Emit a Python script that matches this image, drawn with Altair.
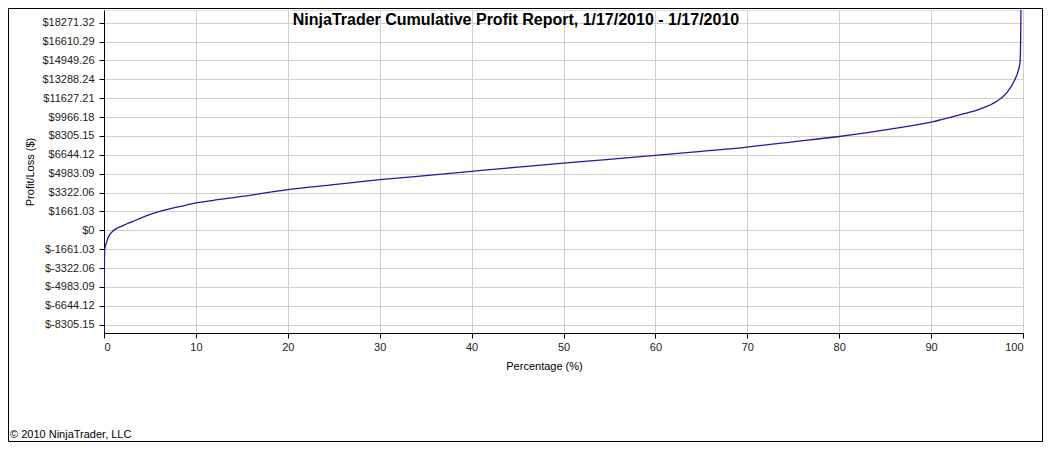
import altair as alt
import pandas as pd

title_text = "NinjaTrader Cumulative Profit Report, 1/17/2010 - 1/17/2010"
copyright_text = "\u00a9 2010 NinjaTrader, LLC"

pct = [0, 0.03, 0.05, 0.08, 0.15, 0.26, 0.4, 0.62, 0.9, 1.16, 1.5, 1.89, 2.5, 3.16, 4.0, 4.97,
       6.79, 8.5, 10.0, 12.6, 15, 20, 25, 30, 35, 40, 45, 50, 55, 60, 65, 70, 75, 80, 85, 90,
       93.1, 95.3, 97.1, 98.2, 99.1, 99.45, 99.62, 99.7, 99.74, 99.78]
pnl = [-9000, -5000, -2425, -1695, -1400, -1107, -740, -378, -120, 61, 220, 351, 580, 791,
       1080, 1379, 1818, 2140, 2407, 2720, 2980, 3575, 4020, 4454, 4820, 5190, 5560, 5920,
       6250, 6588, 6950, 7330, 7790, 8257, 8845, 9522, 10163, 10664, 11331, 12069, 13238,
       13950, 14500, 15000, 16500, 19390]

y_ticks = [-8305.15, -6644.12, -4983.09, -3322.06, -1661.03, 0, 1661.03, 3322.06, 4983.09,
           6644.12, 8305.15, 9966.18, 11627.21, 13288.24, 14949.26, 16610.29, 18271.32]
x_ticks = [0, 10, 20, 30, 40, 50, 60, 70, 80, 90, 100]

df = pd.DataFrame({"pct": pct, "pnl": pnl})

W, H = 919, 323
FONT = "Liberation Sans"

line = alt.Chart(df).mark_line(color="#1c1c9a", strokeWidth=1.3, clip=True,
                               interpolate="monotone").encode(
    x=alt.X("pct:Q", scale=alt.Scale(domain=[0, 100], nice=False, zero=False),
            axis=alt.Axis(values=x_ticks, format="d", title="Percentage (%)",
                          titleX=440, titleY=33, titleBaseline="middle",
                          titleFontWeight="normal", titleFontSize=11, titleFont=FONT,
                          labelFont=FONT, labelFontSize=11, labelColor="#222",
                          labelPadding=3, tickSize=5, tickColor="#000",
                          domainColor="#000", gridColor="#cfcfcf")),
    y=alt.Y("pnl:Q", scale=alt.Scale(domain=[-9035, 19390], nice=False, zero=False),
            axis=alt.Axis(values=y_ticks,
                          labelExpr="datum.value == 0 ? '$0' : (datum.value < 0 ? '$-' + format(-datum.value, '.2f') : '$' + format(datum.value, '.2f'))",
                          title="Profit/Loss ($)", titleX=-74, titleY=H / 2,
                          titleAngle=270, titleAlign="center", titleBaseline="middle",
                          titleFontWeight="normal", titleFontSize=11, titleFont=FONT,
                          labelFont=FONT, labelFontSize=11, labelColor="#222",
                          labelPadding=5, tickSize=5, tickColor="#000",
                          domainColor="#000", gridColor="#cfcfcf")),
)

title = alt.Chart(pd.DataFrame({"t": [title_text]})).mark_text(
    font=FONT, fontSize=16, fontWeight="bold", align="center", baseline="alphabetic",
    color="#000"
).encode(text="t:N", x=alt.value(412), y=alt.value(14.5))

copy = alt.Chart(pd.DataFrame({"t": [copyright_text]})).mark_text(
    font=FONT, fontSize=11, align="left", baseline="alphabetic", color="#000"
).encode(text="t:N", x=alt.value(-94), y=alt.value(428))

frame = alt.Chart(pd.DataFrame({"t": [0]})).mark_rect(
    fill=None, stroke="#000", strokeWidth=1
).encode(x=alt.value(-95.5), x2=alt.value(938.5), y=alt.value(-1.5), y2=alt.value(431.5))

chart = alt.layer(line, title, copy, frame).properties(
    width=W, height=H,
    autosize=alt.AutoSizeParams(type="none"),
    padding={"left": 96, "top": 2, "right": 20, "bottom": 109},
).configure_view(stroke="#c8c8c8", strokeWidth=1.5).configure(background="white")

chart.save("out.html", embed_options={"renderer": "svg", "actions": False})
